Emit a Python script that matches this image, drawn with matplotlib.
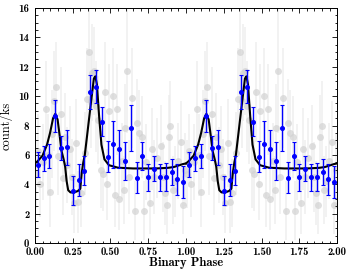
import numpy as np
import matplotlib
matplotlib.use('Agg')
import matplotlib.pyplot as plt
from matplotlib.ticker import MultipleLocator, FormatStrFormatter

plt.rcParams['axes.unicode_minus'] = False
plt.rcParams['axes.formatter.use_mathtext'] = True

# binned light curve (one orbital cycle, 26 bins)
nbin = 26
bin_phase = (np.arange(nbin) + 0.5) / nbin
bin_rate = [5.33, 5.76, 5.92, 8.65, 6.47, 6.51, 3.56, 4.31, 4.92, 10.28, 10.64, 8.26, 5.88,
            6.74, 6.38, 5.60, 7.85, 4.45, 5.94, 4.47, 5.06, 4.47, 4.47, 4.83, 4.34, 4.17]
bin_err = [0.85, 0.84, 0.80, 1.08, 0.82, 1.18, 1.00, 1.10, 1.00, 1.17, 1.13, 1.00, 1.05,
           1.60, 1.30, 1.30, 1.55, 1.07, 0.94, 0.92, 0.85, 0.90, 0.95, 0.90, 1.07, 1.10]

# individual observations (grey)
obs_phase = [0.005, 0.02, 0.035, 0.05, 0.07, 0.085, 0.10, 0.115, 0.128, 0.14, 0.155, 0.17,
             0.185, 0.20, 0.215, 0.23, 0.245, 0.258, 0.275, 0.288, 0.305, 0.33, 0.346, 0.358,
             0.37, 0.378, 0.39, 0.405, 0.42, 0.435, 0.452, 0.465, 0.48, 0.487, 0.515, 0.53,
             0.543, 0.558, 0.575, 0.59, 0.597, 0.608, 0.622, 0.642, 0.662, 0.678, 0.69, 0.706,
             0.72, 0.735, 0.76, 0.777, 0.79, 0.805, 0.832, 0.848, 0.86, 0.872, 0.885, 0.897,
             0.914, 0.927, 0.945, 0.965, 0.978, 0.99]
obs_rate = [4.7, 6.3, 4.0, 5.5, 9.1, 6.0, 3.5, 7.4, 9.7, 10.6, 5.9, 8.8,
            4.4, 7.2, 5.3, 6.4, 4.5, 2.7, 6.8, 2.8, 3.4, 6.1, 9.8, 13.0,
            9.7, 11.6, 11.7, 9.3, 8.4, 5.0, 4.7, 10.3, 4.0, 9.0, 10.0, 3.3,
            9.1, 3.0, 5.6, 3.6, 7.8, 11.7, 4.5, 9.9, 2.2, 8.2, 7.5, 7.2,
            2.2, 5.5, 2.7, 6.4, 4.5, 5.8, 6.6, 4.5, 3.4, 2.6, 7.2, 8.0,
            3.6, 4.2, 5.6, 6.9, 2.6, 5.0]
obs_err = [2.3, 2.5, 2.2, 2.6, 3.3, 2.8, 2.4, 3.0, 3.4, 3.1, 2.6, 3.2,
           2.5, 3.0, 2.6, 2.9, 2.6, 2.0, 3.0, 2.1, 2.3, 2.8, 3.5, 3.6,
           3.2, 3.3, 3.0, 3.1, 3.0, 2.6, 2.5, 3.4, 2.4, 3.2, 3.3, 2.2,
           3.1, 2.1, 2.6, 2.3, 3.0, 4.2, 2.5, 3.4, 2.0, 3.0, 2.9, 2.8,
           2.0, 2.6, 2.1, 2.8, 2.5, 2.7, 2.8, 2.4, 2.2, 2.0, 2.9, 3.0,
           2.3, 2.4, 2.6, 2.8, 2.0, 2.5]

# model curve (one cycle)
model_phase = [0.00, 0.02, 0.05, 0.08, 0.10, 0.12, 0.135, 0.15, 0.165, 0.175, 0.19, 0.20,
               0.21, 0.22, 0.235, 0.26, 0.285, 0.30, 0.31, 0.32, 0.33, 0.345, 0.37, 0.39,
               0.40, 0.41, 0.425, 0.44, 0.46, 0.49, 0.55, 0.65, 0.80, 0.88, 0.92, 0.95,
               0.98, 1.00]
model_rate = [5.42, 5.60, 5.95, 6.70, 7.50, 8.50, 8.80, 8.40, 7.20, 6.30, 5.70, 5.20,
              4.20, 3.60, 3.45, 3.45, 3.55, 3.70, 4.80, 5.50, 6.00, 7.30, 9.50, 11.20,
              11.35, 10.80, 8.60, 6.70, 5.70, 5.30, 5.13, 5.08, 5.08, 5.12, 5.18, 5.28,
              5.38, 5.42]

cycles = [0, 1]

fig = plt.figure(figsize=(3.53, 2.75), dpi=100)
ax = fig.add_axes([0.099, 0.116, 0.856, 0.855])

for c in cycles:
    ax.errorbar(np.array(obs_phase) + c, obs_rate, yerr=obs_err, fmt='o', ms=5,
                color='#d2d2d2', mec='none', alpha=0.7, ecolor='#ebebeb', elinewidth=1.3,
                capsize=0, zorder=1)

for c in cycles:
    ax.plot(np.array(model_phase) + c, model_rate, color='black', lw=1.5, zorder=3)

for c in cycles:
    ax.errorbar(bin_phase + c, bin_rate, yerr=bin_err, fmt='o', ms=2.6, color='blue',
                ecolor='blue', elinewidth=1.0, capsize=1.2, capthick=0.8, zorder=4)

ax.set_xlim(0, 2)
ax.set_ylim(0, 16)
ax.xaxis.set_major_locator(MultipleLocator(0.25))
ax.xaxis.set_minor_locator(MultipleLocator(0.05))
ax.yaxis.set_major_locator(MultipleLocator(2))
ax.yaxis.set_minor_locator(MultipleLocator(0.5))
ax.xaxis.set_major_formatter(FormatStrFormatter('%.2f'))
ax.yaxis.set_major_formatter(FormatStrFormatter('%d'))
ax.tick_params(which='both', direction='in', top=True, right=True, width=0.6)
ax.tick_params(which='major', length=3.5, labelsize=7.8)
ax.tick_params(axis='x', which='major', pad=3)
ax.tick_params(axis='y', which='major', pad=4)
ax.tick_params(which='minor', length=1.8)
for lab in ax.get_xticklabels() + ax.get_yticklabels():
    lab.set_family('cmb10')
for s in ax.spines.values():
    s.set_linewidth(0.7)

ax.set_xlabel('Binary Phase', family='cmb10', fontsize=9, labelpad=0)
ax.set_ylabel('count/ks', family='cmr10', fontsize=9, labelpad=4)

fig.savefig('out.png', dpi=100)
